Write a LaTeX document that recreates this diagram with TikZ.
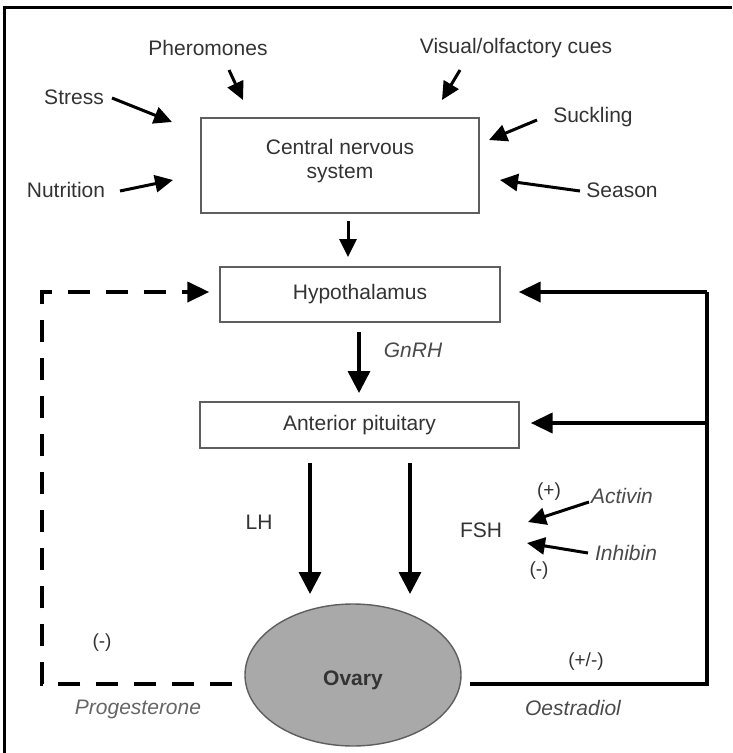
\documentclass[tikz,border=0pt]{standalone}
\usepackage{fontspec}
\setmainfont{Liberation Sans}
\usetikzlibrary{arrows.meta,shapes.geometric}
\definecolor{ink}{HTML}{333333}
\definecolor{inksoft}{HTML}{4A4A4A}
\definecolor{edge}{HTML}{5E5E5E}
\definecolor{ovaryfill}{HTML}{A9A9A9}
\begin{document}
\begin{tikzpicture}[x=1pt,y=-1pt,
  every node/.style={inner sep=0pt, text=ink, font=\fontsize{21}{25}\selectfont},
  hormone/.style={text=inksoft, font=\fontsize{21}{25}\selectfont\itshape},
  sign/.style={font=\fontsize{19}{23}\selectfont},
  organ/.style={draw=edge, line width=1.4pt, fill=white, align=center},
  inarrow/.style={line width=3pt, -{Triangle[width=17pt,length=18pt]}},
  mainarrow/.style={line width=3.5pt, -{Triangle[width=22pt,length=22pt]}},
  feedback/.style={line width=4pt, -{Triangle[width=20pt,length=22pt]}},
  dashfeed/.style={feedback, dash pattern=on 22pt off 16pt},
]
\useasboundingbox (0,0) rectangle (732,753);

% frame
\draw[line width=3pt] (4.5,753) -- (4.5,7) -- (732,7);

% organs
\node[organ, minimum width=278pt, minimum height=95pt] (cns) at (340,165.5) {};
\node[align=center, font=\fontsize{21}{24}\selectfont] (cnslabel) at (340,161)
  {Central nervous\\system};
\node[organ, minimum width=280pt, minimum height=55pt] (hyp) at (360,294.5) {Hypothalamus};
\node[organ, minimum width=319pt, minimum height=46pt] (ap) at (359.5,425) {Anterior pituitary};
\node[ellipse, draw=edge, line width=1.4pt, fill=ovaryfill,
      minimum width=216pt, minimum height=142pt] (ovary) at (353,675) {};
\node[font=\fontsize{21}{25}\selectfont\bfseries] (ovlabel) at (353,680) {Ovary};

% external cues
\node (pher) at (208,48) {Pheromones};
\node (vis) at (516,48) {Visual/olfactory cues};
\node (stress) at (74,97) {Stress};
\node (suck) at (593,117) {Suckling};
\node (nut) at (66,190) {Nutrition};
\node (season) at (622,190) {Season};

\coordinate (pherA) at (229,70);   \coordinate (pherB) at (243,100);
\coordinate (visA) at (460,70);    \coordinate (visB) at (442,100);
\coordinate (stressA) at (112,98); \coordinate (stressB) at (172,122);
\coordinate (suckA) at (537,120);  \coordinate (suckB) at (489,140);
\coordinate (nutA) at (120,191);   \coordinate (nutB) at (173,180);
\coordinate (seasA) at (580,191);  \coordinate (seasB) at (500,180);

\draw[inarrow] (pherA) -- (pherB);
\draw[inarrow] (visA) -- (visB);
\draw[inarrow] (stressA) -- (stressB);
\draw[inarrow] (suckA) -- (suckB);
\draw[inarrow] (nutA) -- (nutB);
\draw[inarrow] (seasA) -- (seasB);

% axis
\coordinate (cnsOut) at (348,221);
\coordinate (hypIn) at (348,257);
\draw[inarrow] (cnsOut) -- (hypIn);
\coordinate (hypOut) at (359,332);
\coordinate (apIn) at (359,393);
\draw[mainarrow] (hypOut) -- (apIn);
\node[hormone] (gnrh) at (413,350) {GnRH};

\coordinate (lhA) at (310,463);  \coordinate (lhB) at (310,594);
\coordinate (fshA) at (410,463); \coordinate (fshB) at (410,594);
\draw[mainarrow] (lhA) -- (lhB);
\draw[mainarrow] (fshA) -- (fshB);
\node (lh) at (259,522) {LH};
\node (fsh) at (481,530) {FSH};

% activin / inhibin
\node[hormone] (act) at (622,496) {Activin};
\node[hormone] (inh) at (626,553) {Inhibin};
\node[sign] (plus) at (549,492) {(+)};
\node[sign] (minus) at (539,571) {(-)};
\coordinate (actA) at (589,502); \coordinate (actB) at (528,522);
\coordinate (inhA) at (588,553); \coordinate (inhB) at (527,543);
\draw[inarrow] (actA) -- (actB);
\draw[inarrow] (inhA) -- (inhB);

% progesterone feedback (dashed)
\coordinate (pgCornerLow) at (42,684);
\coordinate (pgCornerHigh) at (42,292);
\draw[dashfeed, shorten <=12pt, shorten >=10pt]
  (ovary.west |- 0,684) -- (pgCornerLow) -- (pgCornerHigh) -- (hyp.west |- 0,292);
\node[sign] (pgsign) at (102,643) {(-)};
\node[hormone, text=inksoft!85] (prog) at (138,709) {Progesterone};

% oestradiol feedback (solid)
\coordinate (oeCornerLow) at (707,684);
\coordinate (oeCornerHigh) at (707,292);
\coordinate (oeBranch) at (707,423);
\draw[line width=4pt, line join=miter, shorten <=8pt]
  (ovary.east |- 0,684) -- (oeCornerLow) -- (oeCornerHigh);
\draw[feedback, shorten >=18pt] (oeCornerHigh) -- (hyp.east |- 0,292);
\draw[feedback, shorten >=11pt] (oeBranch) -- (ap.east |- 0,423);
\node[sign] (oesign) at (586,662) {(+/-)};
\node[hormone] (oes) at (573,708) {Oestradiol};
\end{tikzpicture}
\end{document}
